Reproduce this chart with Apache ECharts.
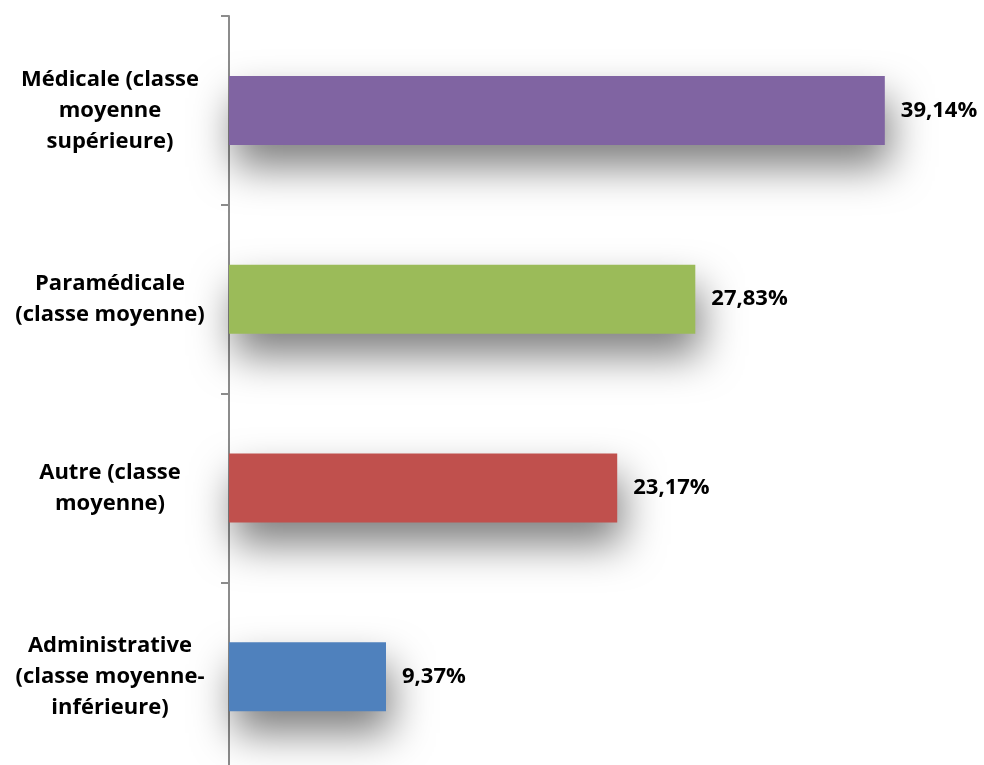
<!DOCTYPE html>
<html><head><meta charset="utf-8">
<script src="https://cdn.jsdelivr.net/npm/echarts@6/dist/echarts.min.js"></script>
<style>html,body{margin:0;padding:0;background:#fff;overflow:hidden}#c{width:984px;height:780px}</style>
</head><body><div id="c"></div>
<script>
const categories = [
  "Médicale (classe\nmoyenne\nsupérieure)",
  "Paramédicale\n(classe moyenne)",
  "Autre (classe\nmoyenne)",
  "Administrative\n(classe moyenne-\ninférieure)"
];
const values = [39.14, 27.83, 23.17, 9.37];
const colors = ["#8064A2", "#9BBB59", "#C0504D", "#4F81BD"];

const chart = echarts.init(document.getElementById('c'), null, {renderer: 'canvas'});
chart.setOption({
  animation: false,
  grid: {left: 229, top: 16, width: 754, height: 755, containLabel: false},
  xAxis: {type: 'value', min: 0, max: 45, show: false},
  yAxis: {
    type: 'category', data: categories, inverse: true,
    axisLine: {show: true, lineStyle: {color: '#8c8c8c', width: 2}},
    axisTick: {show: true, length: 8, lineStyle: {color: '#8c8c8c', width: 2}},
    axisLabel: {
      margin: 119, align: 'center', fontFamily: 'Open Sans', fontWeight: 'bold',
      fontSize: 22, color: '#000', lineHeight: 31
    },
    splitLine: {show: false}
  },
  series: [{
    type: 'bar', barWidth: 69,
    data: values.map((v, i) => ({
      value: v,
      itemStyle: {color: colors[i], shadowColor: 'rgba(0,0,0,0.5)', shadowBlur: 40, shadowOffsetY: 22, shadowOffsetX: 5}
    })),
    label: {
      show: true, position: 'right', distance: 16,
      fontFamily: 'Open Sans', fontWeight: 'bold', fontSize: 22, color: '#000',
      formatter: p => p.value.toFixed(2).replace('.', ',') + '%'
    }
  }]
});
</script></body></html>
